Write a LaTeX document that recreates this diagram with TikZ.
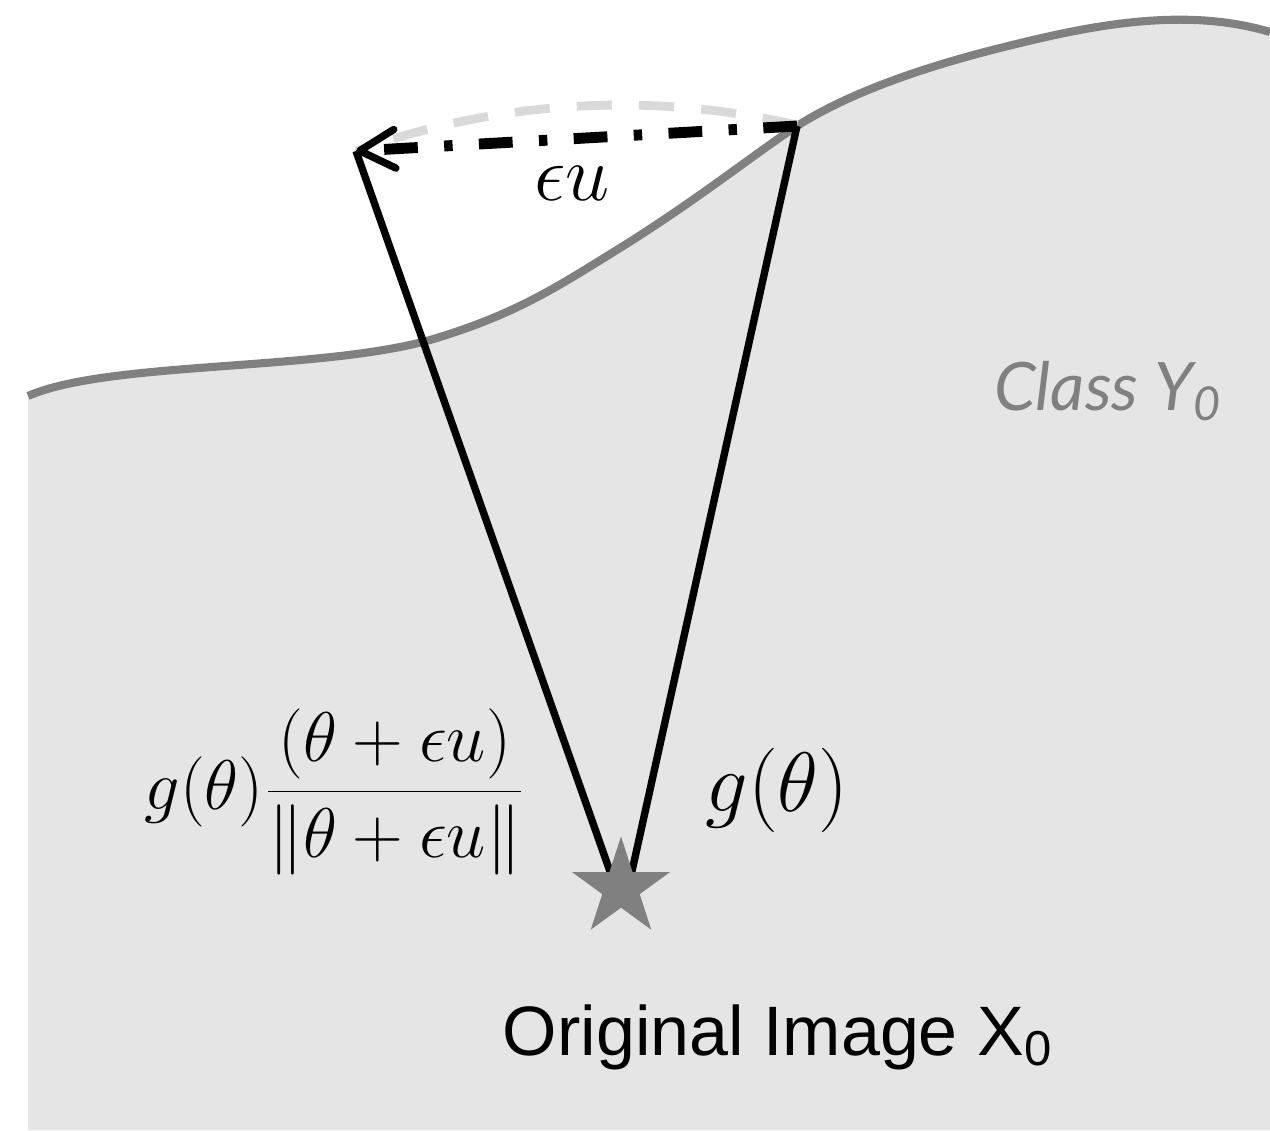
\documentclass[tikz,border=0pt]{standalone}
\usepackage{fix-cm}
\usepackage{fontspec}
\usetikzlibrary{arrows.meta,shapes.geometric}
\newfontfamily\arialf{Liberation Sans}
\newfontfamily\classf{Lato}
\definecolor{regionfill}{HTML}{E5E5E5}
\definecolor{edgegray}{HTML}{808080}
\definecolor{arcgray}{HTML}{D9D9D9}
\begin{document}
\begin{tikzpicture}[x=0.01cm,y=-0.01cm,
  edge/.style={draw=edgegray,line width=2.3pt},
  ray/.style={draw=black,line width=2.1pt},
  arcline/.style={draw=arcgray,line width=2.5pt,dash pattern=on 10pt off 7.7pt},
  perturb/.style={draw=black,line width=3.1pt,dash pattern=on 9.6pt off 7.5pt on 2.4pt off 7.5pt,
    -{Straight Barb[length=10pt,width=11pt,line width=2.1pt,round]}},
  lbl/.style={inner sep=0pt}]
\useasboundingbox (0,0) rectangle (1270,1130);
% class region
\fill[regionfill] (28,396) .. controls (110,360) and (330,372) .. (440,337)
  .. controls (520,312) and (560,285) .. (620,248)
  .. controls (700,198) and (757,152) .. (797,126)
  .. controls (847,94) and (920,68) .. (1000,48)
  .. controls (1080,28) and (1180,5) .. (1270,32)
  -- (1270,1130) -- (28,1130) -- cycle;
\draw[edge] (28,396) .. controls (110,360) and (330,372) .. (440,337)
  .. controls (520,312) and (560,285) .. (620,248)
  .. controls (700,198) and (757,152) .. (797,126)
  .. controls (847,94) and (920,68) .. (1000,48)
  .. controls (1080,28) and (1180,5) .. (1270,32);
% arc of radius g(theta)
\draw[arcline] plot[domain=-77:-109.78,samples=60] ({621+783*cos(\x)},{888+783*sin(\x)});
% points
\coordinate (tip) at (356,151);
\coordinate (base) at (797,126);
\coordinate (eL) at (613,880);
\coordinate (eR) at (630,880);
\draw[ray] (tip) -- (eL);
\draw[ray] (base) -- (eR);
\draw[perturb] (base) -- (tip);
% original image
\node[star,star points=5,star point ratio=2.618,minimum size=1.03cm,inner sep=0pt,fill=edgegray] (x0) at (621,888) {};
% labels
\node[lbl,anchor=base,font=\fontsize{22.5}{27}\selectfont] (eu) at (572,200) {$\epsilon u$};
\node[lbl,font=\fontsize{20}{24}\selectfont] (gfrac) at (335,792) {$\displaystyle g(\theta)\frac{(\theta+\epsilon u)}{\|\theta+\epsilon u\|}$};
\node[lbl,font=\fontsize{24}{29}\selectfont] (g) at (777,790) {$g(\theta)$};
\node[lbl,anchor=base,font=\arialf\fontsize{19.9}{24}\selectfont] (orig) at (778,1055) {Original Image X\textsubscript{0}};
\node[lbl,anchor=base,text=edgegray,font=\classf\itshape\fontsize{19}{23}\selectfont] (cls) at (1108,410) {Class Y\textsubscript{0}};
\end{tikzpicture}
\end{document}
